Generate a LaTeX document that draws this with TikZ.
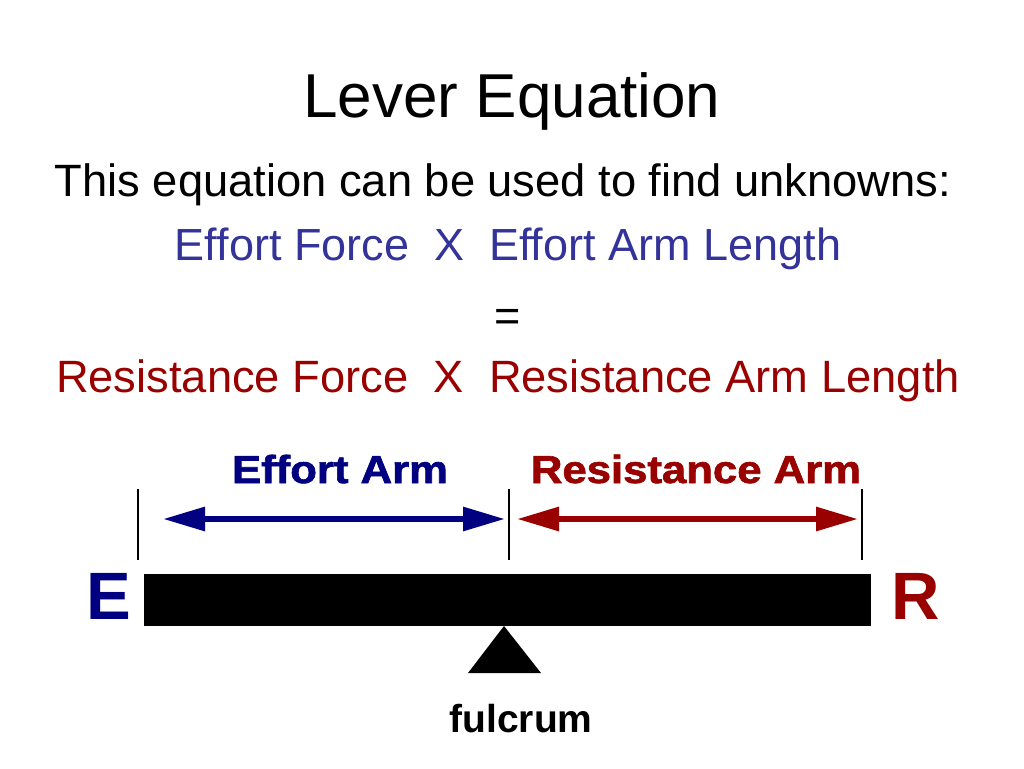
\documentclass[tikz,border=0pt]{standalone}
\usepackage{fontspec}
\setmainfont{Liberation Sans}
\newfontfamily\heavyfont[FakeBold=1.6]{Liberation Sans Bold}
\usetikzlibrary{arrows.meta}
\definecolor{eqblue}{HTML}{333399}
\definecolor{eqred}{HTML}{990000}
\definecolor{navy}{HTML}{000080}
\definecolor{darkred}{HTML}{990000}
\begin{document}
\begin{tikzpicture}[x=1pt,y=-1pt,
  txt/.style={inner sep=0pt, anchor=base},
  tick/.style={line width=2pt},
  armarrow/.style={line width=6pt, {Triangle[length=42pt,width=23pt]}-{Triangle[length=42pt,width=23pt]}, shorten <=0pt, shorten >=0pt}
]
\useasboundingbox (0,0) rectangle (1024,768);
\fill[white] (0,0) rectangle (1024,768);
% texts
\node[txt] (title) at (512,117) {\fontsize{62}{70}\selectfont Lever Equation};
\node[txt] (sub) at (503,196) {\fontsize{45.3}{50}\selectfont This equation can be used to find unknowns:};
\node[txt, text=eqblue] (eff) at (508,260) {\fontsize{45}{50}\selectfont Effort Force\ \ X\ \ Effort Arm Length};
\node[txt] (eq) at (508,331) {\fontsize{45}{50}\selectfont =};
\node[txt, text=eqred] (res) at (508,392) {\fontsize{45.3}{50}\selectfont Resistance Force\ \ X\ \ Resistance Arm Length};
% arm labels
\node[txt, text=navy] (ea) at (340,483) {\scalebox{1.12}[1]{\fontsize{39}{44}\selectfont\heavyfont Effort Arm}};
\node[txt, text=darkred] (ra) at (696,483) {\scalebox{1.12}[1]{\fontsize{39}{44}\selectfont\heavyfont Resistance Arm}};
% ticks
\coordinate (t1a) at (138,489); \coordinate (t1b) at (138,560);
\coordinate (t2a) at (509,489); \coordinate (t2b) at (509,560);
\coordinate (t3a) at (862,489); \coordinate (t3b) at (862,560);
\draw[tick] (t1a) -- (t1b);
\draw[tick] (t2a) -- (t2b);
\draw[tick] (t3a) -- (t3b);
% arrows
\coordinate (ea1) at (163,519); \coordinate (ea2) at (505,519);
\coordinate (ra1) at (517,519); \coordinate (ra2) at (858,519);
\draw[armarrow, navy] (ea1) -- (ea2);
\draw[armarrow, darkred] (ra1) -- (ra2);
% lever bar
\fill[black] (144,574) rectangle (871,626);
% fulcrum
\fill[black] (504,626) -- (541,673) -- (468,673) -- cycle;
\node[txt] (fulc) at (521,732) {\fontsize{39}{44}\selectfont\bfseries fulcrum};
% E and R
\node[txt, text=navy] (E) at (109,619) {\fontsize{67}{70}\selectfont\bfseries E};
\node[txt, text=darkred] (R) at (916,619) {\fontsize{67}{70}\selectfont\bfseries R};
\end{tikzpicture}
\end{document}
